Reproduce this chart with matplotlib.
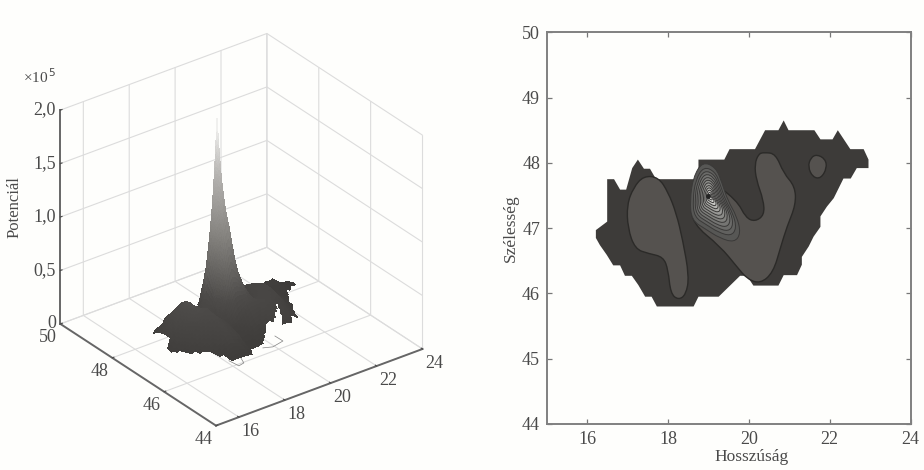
import numpy as np
import matplotlib
matplotlib.use("Agg")
import matplotlib.pyplot as plt
from matplotlib.colors import LinearSegmentedColormap
from matplotlib.patches import PathPatch
from matplotlib.path import Path

# Outline of the country, lon/lat
outline_lon = [16.21, 16.49, 16.49, 16.66, 16.81, 16.96, 17.11, 17.25, 17.40, 17.55, 17.70, 18.75, 18.75,
               19.39, 19.52, 20.15, 20.40, 20.73, 20.86, 20.98, 21.62, 21.77, 22.07, 22.20, 22.51, 22.84,
               22.96, 22.96, 22.67, 22.52, 22.34, 22.10, 21.93, 21.77, 21.77, 21.60, 21.48, 21.31, 21.31,
               21.19, 20.86, 20.73, 20.11, 19.95, 19.78, 19.25, 18.75, 18.63, 17.72, 17.59, 17.43, 17.26,
               17.10, 16.93, 16.81, 16.64, 16.48, 16.31, 16.21]
outline_lat = [46.97, 47.10, 47.75, 47.75, 47.59, 47.59, 47.92, 48.05, 47.91, 47.91, 47.75, 47.75, 48.05,
               48.05, 48.21, 48.21, 48.50, 48.50, 48.65, 48.50, 48.50, 48.36, 48.36, 48.50, 48.21, 48.21,
               48.05, 47.92, 47.92, 47.76, 47.76, 47.46, 47.33, 47.18, 47.02, 46.87, 46.72, 46.56, 46.44,
               46.28, 46.28, 46.12, 46.12, 46.27, 46.27, 45.95, 45.95, 45.80, 45.80, 45.95, 45.95, 46.13,
               46.27, 46.27, 46.43, 46.43, 46.59, 46.74, 46.85]

# Contour shapes of the right panel
west_lon = [17.39, 17.76, 18.00, 18.20, 18.36, 18.52, 18.44, 18.25, 18.06, 18.00, 17.88, 17.52, 17.18, 17.00, 16.98, 17.14]
west_lat = [47.80, 47.78, 47.55, 47.23, 46.82, 46.26, 45.98, 45.90, 46.00, 46.36, 46.56, 46.61, 46.68, 47.00, 47.36, 47.62]
central_lon = [20.38, 20.66, 20.86, 21.14, 21.16, 20.94, 20.79, 20.60, 20.28, 19.96, 19.70, 19.29, 18.60, 18.55,
               18.90, 19.70, 19.92, 20.15, 20.38, 20.36, 20.18, 20.14, 20.24]
central_lat = [48.16, 48.14, 47.84, 47.64, 47.36, 47.02, 46.72, 46.32, 46.15, 46.22, 46.41, 46.72, 47.07, 47.43,
               47.80, 47.43, 47.16, 47.10, 47.20, 47.43, 47.74, 47.98, 48.14]
east_lon = [21.68, 21.89, 21.93, 21.78, 21.58, 21.46, 21.53]
east_lat = [48.13, 48.06, 47.92, 47.76, 47.78, 47.94, 48.08]
ring_lon = [18.85, 19.18, 19.33, 19.47, 19.70, 19.80, 19.64, 19.27, 18.94, 18.58, 18.54, 18.62]
ring_lat = [48.02, 47.93, 47.70, 47.43, 47.18, 46.92, 46.78, 46.85, 46.98, 47.12, 47.43, 47.78]
peak_lon = 19.04
peak_lat = 47.48
ring_scale = [1.0, 0.86, 0.76, 0.67, 0.58, 0.50, 0.42, 0.34, 0.27, 0.20, 0.13, 0.07]
ring_gray = [0.34, 0.38, 0.42, 0.46, 0.50, 0.55, 0.60, 0.65, 0.71, 0.78, 0.86, 0.96]

# Potential surface, x 1e5
surf_lon = [16.0, 16.5, 17.0, 17.5, 18.0, 18.5, 18.75, 18.9, 19.0, 19.1, 19.25, 19.5, 20.0, 20.5, 21.0, 21.5, 22.0, 22.5, 23.0]
surf_lat = [45.75, 46.25, 46.75, 47.0, 47.25, 47.4, 47.5, 47.6, 47.75, 48.0, 48.25, 48.75]
surf_z = [
    [.05, .06, .08, .08, .08, .08, .08, .08, .08, .08, .08, .08, .10, .10, .10, .05, .05, .05, .05],
    [.08, .10, .15, .20, .28, .22, .12, .12, .12, .12, .14, .15, .22, .22, .18, .08, .05, .05, .05],
    [.10, .18, .25, .32, .36, .26, .20, .20, .22, .24, .28, .34, .34, .30, .22, .12, .06, .05, .05],
    [.10, .20, .32, .42, .38, .24, .34, .45, .55, .60, .58, .50, .30, .32, .28, .14, .08, .05, .05],
    [.10, .22, .36, .44, .32, .34, .62, .95, 1.10, 1.15, 1.00, .65, .22, .30, .30, .16, .08, .06, .05],
    [.10, .20, .36, .42, .28, .36, .80, 1.25, 1.65, 1.40, 1.05, .50, .18, .30, .30, .16, .09, .06, .05],
    [.10, .20, .34, .40, .26, .36, .95, 1.45, 2.00, 1.60, 1.05, .45, .15, .28, .30, .16, .09, .06, .05],
    [.10, .18, .30, .36, .22, .32, .75, 1.15, 1.45, 1.20, .80, .32, .14, .28, .28, .16, .10, .06, .05],
    [.08, .15, .25, .28, .18, .24, .50, .70, .80, .70, .50, .24, .12, .28, .26, .15, .12, .07, .06],
    [.06, .10, .14, .14, .12, .12, .20, .22, .22, .20, .16, .12, .10, .22, .18, .12, .18, .08, .06],
    [.05, .08, .08, .08, .08, .08, .10, .10, .10, .10, .10, .10, .10, .16, .14, .10, .10, .07, .05],
    [.05, .05, .05, .05, .05, .05, .05, .05, .05, .05, .05, .05, .05, .05, .05, .05, .05, .05, .05],
]
# Notch where the surface is cut open, and the thin floor line showing there
notch_lon = [19.70, 20.50, 20.74, 20.35, 20.10]
notch_lat = [46.00, 46.50, 46.77, 46.15, 46.00]
loop1_lon = [18.12, 18.18, 18.44, 18.57]
loop1_lat = [46.26, 45.93, 45.97, 46.20]
loop2_lon = [20.45, 20.46, 19.93, 19.61]
loop2_lat = [46.55, 46.25, 46.17, 46.27]

lon_ticks = [16, 18, 20, 22, 24]
lat_ticks = [44, 46, 48, 50]
z_ticks = [0, 0.5, 1.0, 1.5, 2.0]
z_labels = ['0', '0,5', '1,0', '1,5', '2,0']

bg = '#fefefc'
text_col = '#4a4a4a'
plt.rcParams['font.family'] = ['Liberation Serif', 'DejaVu Serif']
plt.rcParams['font.size'] = 13
plt.rcParams['text.color'] = text_col
plt.rcParams['axes.labelcolor'] = text_col
plt.rcParams['axes3d.automargin'] = False

fig = plt.figure(figsize=(9.24, 4.7), dpi=100, facecolor=bg)


def fine(nodes, n=8):
    # finer facets for smooth shading, the surface shape stays the same
    return np.interp(np.linspace(0, len(nodes) - 1, (len(nodes) - 1) * n + 1), np.arange(len(nodes)), nodes)


def blob(lon, lat, **kw):
    # closed shape with rounded corners, the points act as spline controls
    p = np.column_stack([lon, lat])
    mid = (p + np.roll(p, -1, axis=0)) / 2
    verts = [mid[-1]]
    codes = [Path.MOVETO]
    for i in range(len(p)):
        verts += [p[i], mid[i]]
        codes += [Path.CURVE3, Path.CURVE3]
    return PathPatch(Path(verts, codes), **kw)


# Left panel: surface
ax = fig.add_axes([15.5 / 924, 14.5 / 470, 440 / 924, 440 / 470], projection='3d', proj_type='ortho', facecolor=bg)
ax.view_init(elev=29.5, azim=-127)
ax.set_box_aspect((1, 1, 0.95), zoom=0.972)
ax.set_xlim(15, 24)
ax.set_ylim(44, 50)
ax.set_zlim(0, 2)

flon, flat = fine(surf_lon), fine(surf_lat)
table = np.array(surf_z)
rows = np.array([np.interp(flon, surf_lon, r) for r in table])
Z = np.array([np.interp(flat, surf_lat, c) for c in rows.T]).T
X, Y = np.meshgrid(flon, flat)
pts = np.column_stack([X.ravel(), Y.ravel()])
inside = Path(np.column_stack([outline_lon, outline_lat])).contains_points(pts)
cut = Path(np.column_stack([notch_lon, notch_lat])).contains_points(pts)
Z = np.where((inside & ~cut).reshape(X.shape), Z, np.nan)

surf_cmap = LinearSegmentedColormap.from_list('pot', [(0, '#3a3836'), (0.2, '#4c4a48'), (0.5, '#85837f'),
                                                      (0.78, '#b5b3b0'), (1, '#f0f0ee')])
ax.plot(loop1_lon, loop1_lat, 0, color='#808080', lw=0.5)
ax.plot(loop2_lon, loop2_lat, 0, color='#808080', lw=0.5)
ax.plot_surface(X, Y, Z, cmap=surf_cmap, vmin=0, vmax=1.95, rstride=1, cstride=1, linewidth=0, antialiased=False)

ax.set_xticks(lon_ticks)
ax.set_yticks(lat_ticks)
ax.set_zticks(z_ticks)
ax.set_zticklabels(z_labels)
for axis in (ax.xaxis, ax.yaxis, ax.zaxis):
    axis.set_pane_color((1, 1, 1, 0))
    axis.pane.set_edgecolor('#d4d4d4')
    axis.line.set_color('#666666')
    axis.line.set_linewidth(1.4)
    axis._axinfo['grid'].update(color='#dcdcdc', linewidth=0.8)
    axis._axinfo['tick'].update(inward_factor=0.0, outward_factor=0.1)
ax.tick_params(axis='x', colors=text_col, width=0.8, pad=-5)
ax.tick_params(axis='y', colors=text_col, width=0.8, pad=-5)
ax.tick_params(axis='z', colors=text_col, width=0.8, pad=-6)
for t in ax.zaxis.get_ticklabels():
    t.set_verticalalignment('center')
    t.set_horizontalalignment('right')
for t in ax.xaxis.get_ticklabels():
    t.set_horizontalalignment('left')
for t in ax.yaxis.get_ticklabels():
    t.set_horizontalalignment('right')

fig.text(15 / 924, 1 - 207 / 470, 'Potenciál', rotation=90, ha='center', va='center', fontsize=12)
fig.text(23 / 924, 1 - 77 / 470, '×10$^{\\,5}$', ha='left', va='center', fontsize=11)

# Right panel: contour map
ax2 = fig.add_axes([547 / 924, 1 - 424 / 470, 363.5 / 924, 391.7 / 470], facecolor=bg)
ax2.fill(outline_lon, outline_lat, color='#3d3b39', lw=0)
for lo, la in ((west_lon, west_lat), (central_lon, central_lat), (east_lon, east_lat)):
    ax2.add_patch(blob(lo, la, facecolor='#55524f', edgecolor='#2b2a28', lw=1.0))
for s, g in zip(ring_scale, ring_gray):
    rx = peak_lon + s * (np.array(ring_lon) - peak_lon)
    ry = peak_lat + s * (np.array(ring_lat) - peak_lat)
    ax2.add_patch(blob(rx, ry, facecolor=(g, g, g * 0.98), edgecolor='#3a3938', lw=0.7))
ax2.plot(peak_lon - 0.05, peak_lat + 0.01, 'o', ms=2.5, color='#222222')
ax2.set_xlim(15, 24)
ax2.set_ylim(44, 50)
ax2.set_xticks(lon_ticks)
ax2.set_yticks(range(44, 51))
ax2.tick_params(direction='in', length=3.5, width=0.9, color='#777777', top=True, right=True, pad=5, labelcolor=text_col)
for sp in ax2.spines.values():
    sp.set_color('#808080')
    sp.set_linewidth(1.4)
ax2.set_xlabel('Hosszúság', fontsize=12.5)
ax2.xaxis.set_label_coords((752 - 547) / 363.5, -0.064)
ax2.set_ylabel('Szélesség', fontsize=12.5, labelpad=2)

fig.savefig('out.png', dpi=100, facecolor=bg)
